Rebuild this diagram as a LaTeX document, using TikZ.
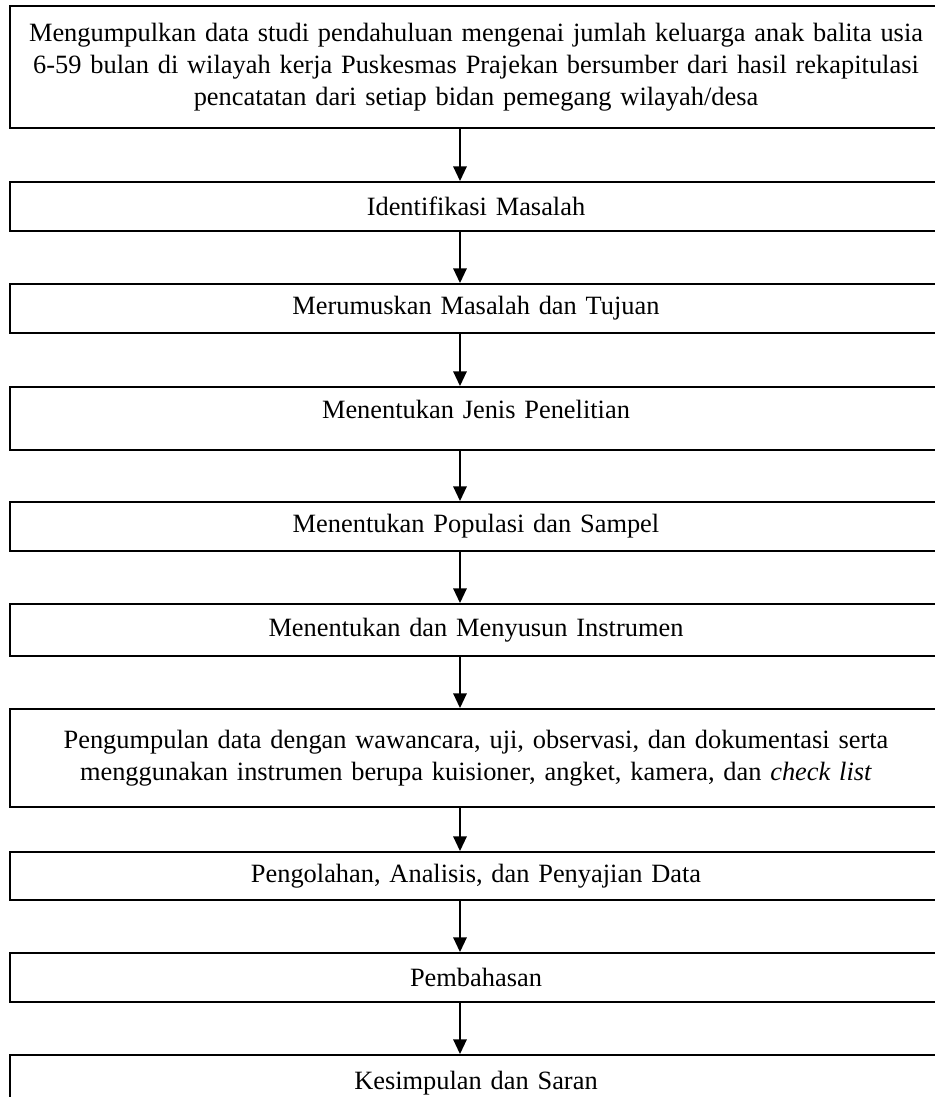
\documentclass[tikz,border=0pt]{standalone}
\usepackage{fontspec}
\setmainfont{Liberation Serif}
\usetikzlibrary{arrows.meta}

\begin{document}
\begin{tikzpicture}
	[x=0.75pt, y=-0.75pt,
	 box/.style = {draw, line width=1.4pt, rectangle, minimum width=699pt, text width=690pt, align=center, inner sep=0pt, font=\fontsize{19.8}{24}\selectfont},
	 arr/.style = {line width=1.4pt, -{Triangle[length=11pt, width=10pt]}}]
	\useasboundingbox (0,0) rectangle (935,1097);
	\node[box, minimum height=91.5pt] (s1) at (476,67) {Mengumpulkan data studi pendahuluan mengenai jumlah keluarga anak balita usia\\ 6-59 bulan di wilayah kerja Puskesmas Prajekan bersumber dari hasil rekapitulasi\\ pencatatan dari setiap bidan pemegang wilayah/desa};
	\node[box, minimum height=36.75pt] (s2) at (476,206.5) {Identifikasi Masalah};
	\node[box, minimum height=36.75pt] (s3) at (476,308.5) {Merumuskan Masalah dan Tujuan};
	\node[box, minimum height=47.25pt, text depth=14pt] (s4) at (476,418.5) {Menentukan Jenis Penelitian};
	\node[box, minimum height=36.75pt] (s5) at (476,526.5) {Menentukan Populasi dan Sampel};
	\node[box, minimum height=39pt] (s6) at (476,630) {Menentukan dan Menyusun Instrumen};
	\node[box, minimum height=73.5pt] (s7) at (476,758) {Pengumpulan data dengan wawancara, uji, observasi, dan dokumentasi serta\\ menggunakan instrumen berupa kuisioner, angket, kamera, dan \textit{check list}};
	\node[box, minimum height=36pt] (s8) at (476,876) {Pengolahan, Analisis, dan Penyajian Data};
	\node[box, minimum height=36.75pt] (s9) at (476,977.5) {Pembahasan};
	\node[box, minimum height=42pt] (s10) at (476,1083) {Kesimpulan dan Saran};
	\coordinate (ax) at (460,0);
	\draw[arr] (s1.south -| ax) -- (s2.north -| ax);
	\draw[arr] (s2.south -| ax) -- (s3.north -| ax);
	\draw[arr] (s3.south -| ax) -- (s4.north -| ax);
	\draw[arr] (s4.south -| ax) -- (s5.north -| ax);
	\draw[arr] (s5.south -| ax) -- (s6.north -| ax);
	\draw[arr] (s6.south -| ax) -- (s7.north -| ax);
	\draw[arr] (s7.south -| ax) -- (s8.north -| ax);
	\draw[arr] (s8.south -| ax) -- (s9.north -| ax);
	\draw[arr] (s9.south -| ax) -- (s10.north -| ax);
\end{tikzpicture}
\end{document}
